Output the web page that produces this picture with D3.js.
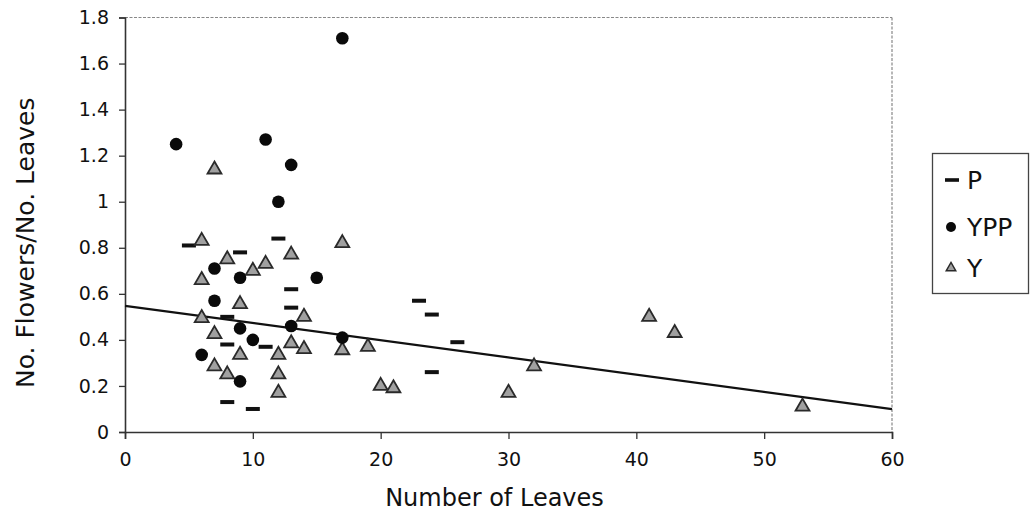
<!DOCTYPE html>
<html>
<head>
<meta charset="utf-8">
<script src="https://cdn.jsdelivr.net/npm/d3@7"></script>
<style>
  html, body { margin: 0; padding: 0; background: #fff; }
  svg { display: block; font-family: "DejaVu Sans", Verdana, sans-serif; }
</style>
</head>
<body>
<svg id="chart" width="1033" height="515"></svg>
<script>
// ---- data ----
const xTicks = [0, 10, 20, 30, 40, 50, 60];
const yTicks = [0, 0.2, 0.4, 0.6, 0.8, 1, 1.2, 1.4, 1.6, 1.8];
const yTickLabels = ["0", "0.2", "0.4", "0.6", "0.8", "1", "1.2", "1.4", "1.6", "1.8"];

const seriesNames = ["P", "YPP", "Y"];

// P (dash markers)
const pX = [5, 12, 9, 13, 13, 8, 8, 11, 8, 10, 23, 24, 26, 24];
const pY = [0.81, 0.84, 0.78, 0.62, 0.54, 0.50, 0.38, 0.37, 0.13, 0.10, 0.57, 0.51, 0.39, 0.26];

// YPP (filled circles)
const yppX = [4, 17, 11, 13, 12, 15, 7, 9, 7, 9, 10, 6, 9, 13, 17];
const yppY = [1.25, 1.71, 1.27, 1.16, 1.00, 0.67, 0.71, 0.67, 0.57, 0.45, 0.40, 0.335, 0.22, 0.46, 0.41];

// Y (grey triangles)
const yX = [7, 6, 8, 10, 11, 13, 17, 6, 9, 6, 14, 7, 9, 13, 14, 12, 7, 8, 12, 12, 17, 19, 20, 21, 30, 32, 41, 43, 53];
const yY = [1.14, 0.83, 0.75, 0.70, 0.73, 0.77, 0.82, 0.66, 0.555, 0.495, 0.50, 0.425, 0.335, 0.385, 0.36, 0.335, 0.285, 0.25, 0.25, 0.17, 0.355, 0.37, 0.20, 0.19, 0.17, 0.285, 0.50, 0.43, 0.11];

// linear trend line end points
const trendX = [0, 60];
const trendY = [0.548, 0.099];

// ---- layout ----
const svg = d3.select("#chart");
const pLeft = 125, pRight = 892, pTop = 17.5, pBottom = 432;

const x = d3.scaleLinear().domain([0, 60]).range([pLeft, pRight]);
const y = d3.scaleLinear().domain([0, 1.8]).range([pBottom, pTop]);

// plot-area border (top & right, dotted grey)
svg.append("line")
  .attr("x1", pLeft).attr("x2", pRight).attr("y1", pTop).attr("y2", pTop)
  .attr("stroke", "#888").attr("stroke-width", 1.2).attr("stroke-dasharray", "3,1.5");
svg.append("line")
  .attr("x1", pRight).attr("x2", pRight).attr("y1", pTop).attr("y2", pBottom)
  .attr("stroke", "#888").attr("stroke-width", 1.2).attr("stroke-dasharray", "3,1.5");

// axes
const xAxis = d3.axisBottom(x).tickValues(xTicks).tickSize(7).tickPadding(14).tickFormat(d3.format("d"));
const gx = svg.append("g").attr("transform", `translate(0,${pBottom})`).call(xAxis);
gx.select(".domain").attr("stroke", "#333").attr("stroke-width", 1.6);
gx.selectAll(".tick line").attr("stroke", "#333").attr("stroke-width", 1.3);
gx.selectAll(".tick text").attr("font-size", 19).attr("fill", "#111")
  .attr("font-family", "'DejaVu Sans', sans-serif");

const yAxis = d3.axisLeft(y).tickValues(yTicks).tickSize(6).tickPadding(10)
  .tickFormat((d, i) => yTickLabels[i]);
const gy = svg.append("g").attr("transform", `translate(${pLeft},0)`).call(yAxis);
gy.select(".domain").attr("stroke", "#333").attr("stroke-width", 1.6);
gy.selectAll(".tick line").attr("stroke", "#333").attr("stroke-width", 1.3);
gy.selectAll(".tick text").attr("font-size", 19).attr("fill", "#111")
  .attr("font-family", "'DejaVu Sans', sans-serif");

// axis titles
svg.append("text")
  .attr("x", (pLeft + pRight) / 2 - 14).attr("y", 506)
  .attr("text-anchor", "middle").attr("font-size", 24).attr("fill", "#111")
  .text("Number of Leaves");
svg.append("text")
  .attr("transform", `translate(34,${(pTop + pBottom) / 2 + 18}) rotate(-90)`)
  .attr("text-anchor", "middle").attr("font-size", 25).attr("fill", "#111")
  .text("No. Flowers/No. Leaves");

// trend line
const line = d3.line().x(d => x(d[0])).y(d => y(d[1]));
svg.append("path")
  .datum(trendX.map((v, i) => [v, trendY[i]]))
  .attr("d", line).attr("fill", "none").attr("stroke", "#111").attr("stroke-width", 2.2);

// markers
const triPath = d3.symbol().type(d3.symbolTriangle).size(84)();
const triSmall = d3.symbol().type(d3.symbolTriangle).size(40)();

// P dashes
svg.append("g").selectAll("rect")
  .data(pX.map((v, i) => [v, pY[i]]))
  .join("rect")
  .attr("x", d => x(d[0]) - 7).attr("y", d => y(d[1]) - 2)
  .attr("width", 14).attr("height", 4).attr("fill", "#111");

// Y triangles
svg.append("g").selectAll("path")
  .data(yX.map((v, i) => [v, yY[i]]))
  .join("path")
  .attr("d", triPath)
  .attr("transform", d => `translate(${x(d[0])},${y(d[1])})`)
  .attr("fill", "#a0a0a0").attr("stroke", "#2a2a2a").attr("stroke-width", 1.8);

// YPP circles
svg.append("g").selectAll("circle")
  .data(yppX.map((v, i) => [v, yppY[i]]))
  .join("circle")
  .attr("cx", d => x(d[0])).attr("cy", d => y(d[1]))
  .attr("r", 6.3).attr("fill", "#0a0a0a");

// legend
const lg = svg.append("g");
lg.append("rect").attr("x", 932.5).attr("y", 153.5).attr("width", 96).attr("height", 140)
  .attr("fill", "#fff").attr("stroke", "#444").attr("stroke-width", 1.3);
const legendY = [180, 227, 268];
seriesNames.forEach((name, i) => {
  const cy = legendY[i];
  if (name === "P") {
    lg.append("rect").attr("x", 945).attr("y", cy - 1.8).attr("width", 14).attr("height", 3.6).attr("fill", "#111");
  } else if (name === "YPP") {
    lg.append("circle").attr("cx", 951).attr("cy", cy).attr("r", 5).attr("fill", "#0a0a0a");
  } else {
    lg.append("path").attr("d", triSmall).attr("transform", `translate(951,${cy})`)
      .attr("fill", "#a0a0a0").attr("stroke", "#2a2a2a").attr("stroke-width", 1.4);
  }
  lg.append("text").attr("x", 967).attr("y", cy + 9).attr("font-size", 25).attr("fill", "#111").text(name);
});
</script>
</body>
</html>
